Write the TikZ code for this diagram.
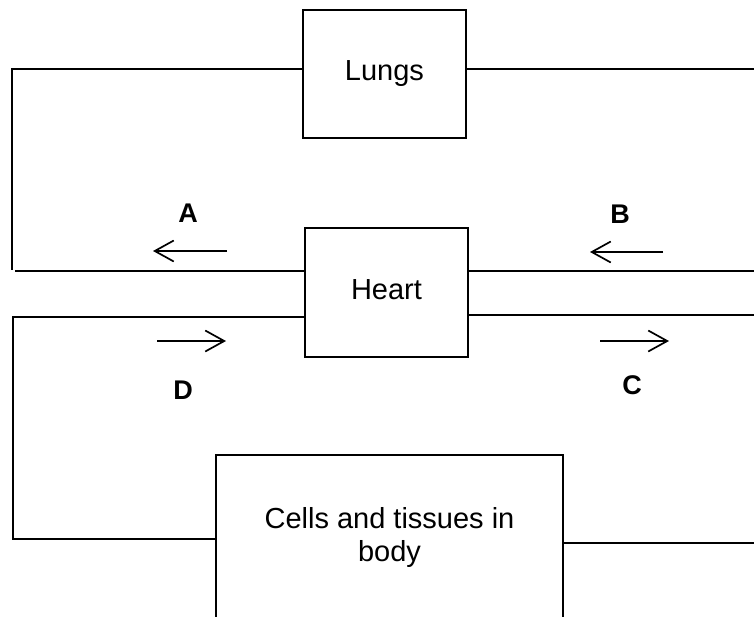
\documentclass[tikz,border=0pt]{standalone}
\usepackage{fontspec}
\setmainfont{Liberation Sans}
\usetikzlibrary{arrows.meta,calc}
\begin{document}
\begin{tikzpicture}[x=1pt,y=-1pt,
  organ/.style={draw,line width=1.4pt,inner sep=0pt,align=center,
    font=\fontsize{29}{33}\selectfont},
  pipe/.style={line width=1.4pt},
  flow/.style={line width=1.7pt,-{Straight Barb[length=19pt,width=21pt,line width=1.7pt]}},
  letter/.style={inner sep=0pt,font=\fontsize{27}{30}\selectfont\bfseries}]
\useasboundingbox (0,0) rectangle (754,616);
\clip (0,0) rectangle (754,616);
% boxes
\node[organ,minimum width=163pt,minimum height=128pt] (lungs) at (384.5,74) {Lungs};
\node[organ,minimum width=163pt,minimum height=129pt,text depth=5pt] (heart) at (386.5,292.5) {Heart};
\node[organ,minimum width=347pt,minimum height=164pt] (cells) at (389.5,537) {Cells and tissues in\\body};
% free ends
\coordinate (ul1) at (12,69);
\coordinate (ul2) at (12,270);
\coordinate (ul3) at (15,271);
\coordinate (ll1) at (13,317);
\coordinate (ll2) at (13,539);
\coordinate (r1) at (754,69);
\coordinate (r2) at (754,271);
\coordinate (r3) at (754,315);
\coordinate (r4) at (754,543);
% left connectors
\draw[pipe] ([yshift=5pt]lungs.west) -- (ul1) -- (ul2);
\draw[pipe] (ul3) -- (ul3 -| heart.west);
\draw[pipe] (ll1 -| heart.west) -- (ll1) -- (ll2) -- (ll2 -| cells.west);
% right connectors
\draw[pipe] ([yshift=5pt]lungs.east) -- (r1);
\draw[pipe] (r2 -| heart.east) -- (r2);
\draw[pipe] (r3 -| heart.east) -- (r3);
\draw[pipe] (r4 -| cells.east) -- (r4);
% flow arrows
\coordinate (a1) at (227,251); \coordinate (a2) at (153,251);
\coordinate (b1) at (663,252); \coordinate (b2) at (590,252);
\coordinate (d1) at (157,341); \coordinate (d2) at (226,341);
\coordinate (c1) at (600,341); \coordinate (c2) at (669,341);
\draw[flow] (a1) -- (a2);
\draw[flow] (b1) -- (b2);
\draw[flow] (d1) -- (d2);
\draw[flow] (c1) -- (c2);
% labels
\node[letter] (la) at (188,213.5) {A};
\node[letter] (lb) at (620,214) {B};
\node[letter] (ld) at (183,390) {D};
\node[letter] (lc) at (632,385) {C};
\end{tikzpicture}
\end{document}
